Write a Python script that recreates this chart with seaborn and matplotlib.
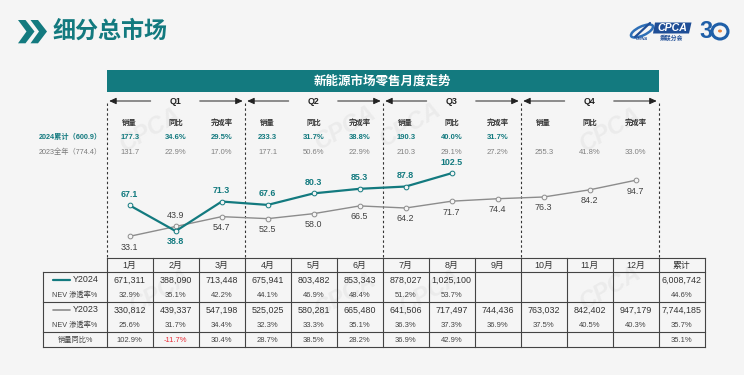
import numpy as np
import pandas as pd
import matplotlib
matplotlib.use("Agg")
import matplotlib.pyplot as plt
from matplotlib.patches import Polygon, Rectangle, Ellipse
import seaborn as sns

months = ["1月","2月","3月","4月","5月","6月","7月","8月","9月","10月","11月","12月"]
y2024 = [67.1,38.8,71.3,67.6,80.3,85.3,87.8,102.5]
y2023 = [33.1,43.9,54.7,52.5,58.0,66.5,64.2,71.7,74.4,76.3,84.2,94.7]

sales24 = ["671,311","388,090","713,448","675,941","803,482","853,343","878,027","1,025,100","","","","","6,008,742"]
nev24 = ["32.9%","35.1%","42.2%","44.1%","46.9%","48.4%","51.2%","53.7%","","","","","44.6%"]
sales23 = ["330,812","439,337","547,198","525,025","580,281","665,480","641,506","717,497","744,436","763,032","842,402","947,179","7,744,185"]
nev23 = ["25.6%","31.7%","34.4%","32.3%","33.3%","35.1%","36.3%","37.3%","36.9%","37.5%","40.5%","40.3%","35.7%"]
yoy = ["102.9%","-11.7%","30.4%","28.7%","38.5%","28.2%","36.9%","42.9%","","","","","35.1%"]

quarters = ["Q1","Q2","Q3","Q4"]
sub_heads = ["销量","同比","完成率"]
q2024 = ["177.3","34.6%","29.5%","233.3","31.7%","38.8%","190.3","40.0%","31.7%","","",""]
q2023 = ["131.7","22.9%","17.0%","177.1","50.6%","22.9%","210.3","29.1%","27.2%","255.3","41.8%","33.0%"]

TEAL = "#137A7F"
GRAY = "#8C8C8C"
BG = "#F5F5F5"
FONT = ["Liberation Sans", "Noto Sans CJK SC"]

sns.set_theme(style="white")
plt.rcParams["font.family"] = FONT
plt.rcParams["axes.unicode_minus"] = False

W, H = 744, 375
fig = plt.figure(figsize=(W/100, H/100), dpi=100, facecolor=BG)

bg = fig.add_axes([0, 0, 1, 1], zorder=0)
bg.set_xlim(0, W); bg.set_ylim(H, 0); bg.axis("off")

COL0 = 106.7
COLW = 46.0
cx = [COL0 + COLW*(i+.5) for i in range(13)]

# watermarks
for wx, wy in [(150,130),(345,128),(410,125),(610,130),(160,292),(345,295),(430,292),(610,288)]:
    bg.text(wx, wy, "CPCA", fontsize=17, fontweight="bold", style="italic", color="#EBEBEB",
            rotation=30, ha="center", va="center", zorder=0)

# header
for dx in (0, 12.5):
    bg.add_patch(Polygon([(18+dx,20),(25.5+dx,20),(34.5+dx,31.5),(25.5+dx,43.3),(18+dx,43.3),(26.5+dx,31.5)],
                         closed=True, fc=TEAL, ec="none"))
bg.text(53, 31, "细分总市场", fontsize=16.6, fontweight="bold", color=TEAL, ha="left", va="center")

# logo
bg.add_patch(Ellipse((642, 31), 24, 9, angle=-25, fc="none", ec="#2E6FB7", lw=1.8))
bg.plot([635, 650], [37, 23], color="#1F4E96", lw=1.6)
bg.text(642, 39.5, "CHINA", fontsize=2.8, style="italic", fontweight="bold", color="#1F4E96", ha="center", va="center")
bg.add_patch(Polygon([(655,22.5),(691.5,22.5),(689,33.5),(653,33.5)], closed=True, fc="#1F4E96", ec="none"))
bg.text(672, 28, "CPCA", fontsize=7.6, style="italic", fontweight="bold", color="white", ha="center", va="center")
bg.text(672, 38, "乘联分会", fontsize=4.2, fontweight="bold", color="#1F4E96", ha="center", va="center")
bg.text(706.3, 31.5, "3", fontsize=17, fontweight="bold", color="#1F5FA8", ha="center", va="center")
bg.add_patch(Ellipse((720, 31.5), 16, 15, fc="none", ec="#1F5FA8", lw=2.2))
bg.add_patch(Ellipse((720, 31), 4, 3, fc="#E8803A", ec="none"))

# title band
bg.add_patch(Rectangle((COL0-0.2, 69.7), 552, 22.3, fc=TEAL, ec="none"))
bg.text(382.5, 81, "新能源市场零售月度走势", fontsize=9, fontweight="bold", color="white", ha="center", va="center")

# quarter arrows
arrow = dict(arrowstyle="-|>,head_length=0.35,head_width=0.16", color="#222222", lw=0.7, shrinkA=0, shrinkB=0)
for i, q in enumerate(quarters):
    x0 = COL0 + 138*i
    xc = x0 + 69
    bg.text(xc, 101.5, q, fontsize=6.4, fontweight="bold", color="#222222", ha="center", va="center")
    bg.annotate("", xy=(x0+2.5, 101), xytext=(x0+44, 101), arrowprops=arrow)
    bg.annotate("", xy=(x0+136, 101), xytext=(x0+93, 101), arrowprops=arrow)
    bg.plot([x0, x0], [103, 257.7], color="#333333", lw=0.8, ls=(0, (2.2, 2.2)))
    for j, s in enumerate(sub_heads):
        bg.text(cx[3*i+j], 123.2, s, fontsize=5.3, fontweight="bold", color="#333333", ha="center", va="center")
bg.plot([COL0+552]*2, [103, 257.7], color="#333333", lw=0.8, ls=(0, (2.2, 2.2)))

bg.text(101.5, 137.7, "2024累计（600.9）", fontsize=5.2, fontweight="bold", color=TEAL, ha="right", va="center")
bg.text(101.5, 152.3, "2023全年（774.4）", fontsize=5.2, color="#7A7A7A", ha="right", va="center")
for i in range(12):
    bg.text(cx[i], 137.7, q2024[i], fontsize=5.5, fontweight="bold", color=TEAL, ha="center", va="center")
    bg.text(cx[i], 152.3, q2023[i], fontsize=5.5, color="#808080", ha="center", va="center")

# line chart
top, bot = 100.0, 258.0
ax = fig.add_axes([COL0/W, 1-bot/H, 552/W, (bot-top)/H], zorder=2)
ax.patch.set_alpha(0)
sns.lineplot(x=months, y=y2023, sort=False, ax=ax, color=GRAY, lw=1.0, marker="o", ms=3.4,
             mfc=BG, mec=GRAY, mew=0.7, zorder=3)
sns.lineplot(x=months[:len(y2024)], y=y2024, sort=False, ax=ax, color=TEAL, lw=1.6, marker="o", ms=3.4,
             mfc=BG, mec=TEAL, mew=0.7, zorder=4)
ax.set_xlim(-0.5, 11.5)
ax.set_ylim(9.25, 182.9)
ax.axis("off")

for i, v in enumerate(y2024):
    off = -7.6 if months[i] == "2月" else 7.9
    ax.annotate(f"{v:.1f}", (i, v), xytext=(0, off), textcoords="offset points", fontsize=6.4,
                fontweight="bold", color=TEAL, ha="center", va="center")
for i, v in enumerate(y2023):
    off = 8.2 if months[i] == "2月" else -7.8
    ax.annotate(f"{v:.1f}", (i, v), xytext=(0, off), textcoords="offset points", fontsize=6.4,
                color="#404040", ha="center", va="center")

# table
rows_y = [257.7, 272.3, 302.3, 332.3, 347.0]
LEFT = 43.3
RIGHT = COL0 + COLW*13
lk = dict(color="#444444", lw=0.8, solid_capstyle="projecting")
bg.plot([COL0, RIGHT], [rows_y[0]]*2, **lk)
for y in rows_y[1:]:
    bg.plot([LEFT, RIGHT], [y, y], **lk)
bg.plot([LEFT, LEFT], [rows_y[1], rows_y[-1]], **lk)
for i in range(14):
    bg.plot([COL0+COLW*i]*2, [rows_y[0], rows_y[-1]], **lk)

for i, m in enumerate(months + ["累计"]):
    bg.text(cx[i], 265.5, m, fontsize=6.4, color="#333333", ha="center", va="center")
for i in range(13):
    bg.text(cx[i], 280, sales24[i], fontsize=6.4, color="#333333", ha="center", va="center")
    bg.text(cx[i], 295.5, nev24[i], fontsize=5.5, color="#444444", ha="center", va="center")
    bg.text(cx[i], 310, sales23[i], fontsize=6.4, color="#333333", ha="center", va="center")
    bg.text(cx[i], 325.5, nev23[i], fontsize=5.5, color="#444444", ha="center", va="center")
    neg = yoy[i].startswith("-")
    bg.text(cx[i], 340, yoy[i], fontsize=5.5, color="#E8303A" if neg else "#444444", ha="center", va="center")

bg.plot([53, 70], [280, 280], color=TEAL, lw=1.6)
bg.text(73, 280, "Y2024", fontsize=6.4, color="#333333", ha="left", va="center")
bg.plot([53, 70], [310, 310], color=GRAY, lw=1.2)
bg.text(73, 310, "Y2023", fontsize=6.4, color="#333333", ha="left", va="center")
bg.text(75, 295.5, "NEV 渗透率%", fontsize=5.2, color="#444444", ha="center", va="center")
bg.text(75, 325.5, "NEV 渗透率%", fontsize=5.2, color="#444444", ha="center", va="center")
bg.text(75, 340, "销量同比%", fontsize=5.2, color="#444444", ha="center", va="center")

fig.savefig("out.png", dpi=100, facecolor=BG)
